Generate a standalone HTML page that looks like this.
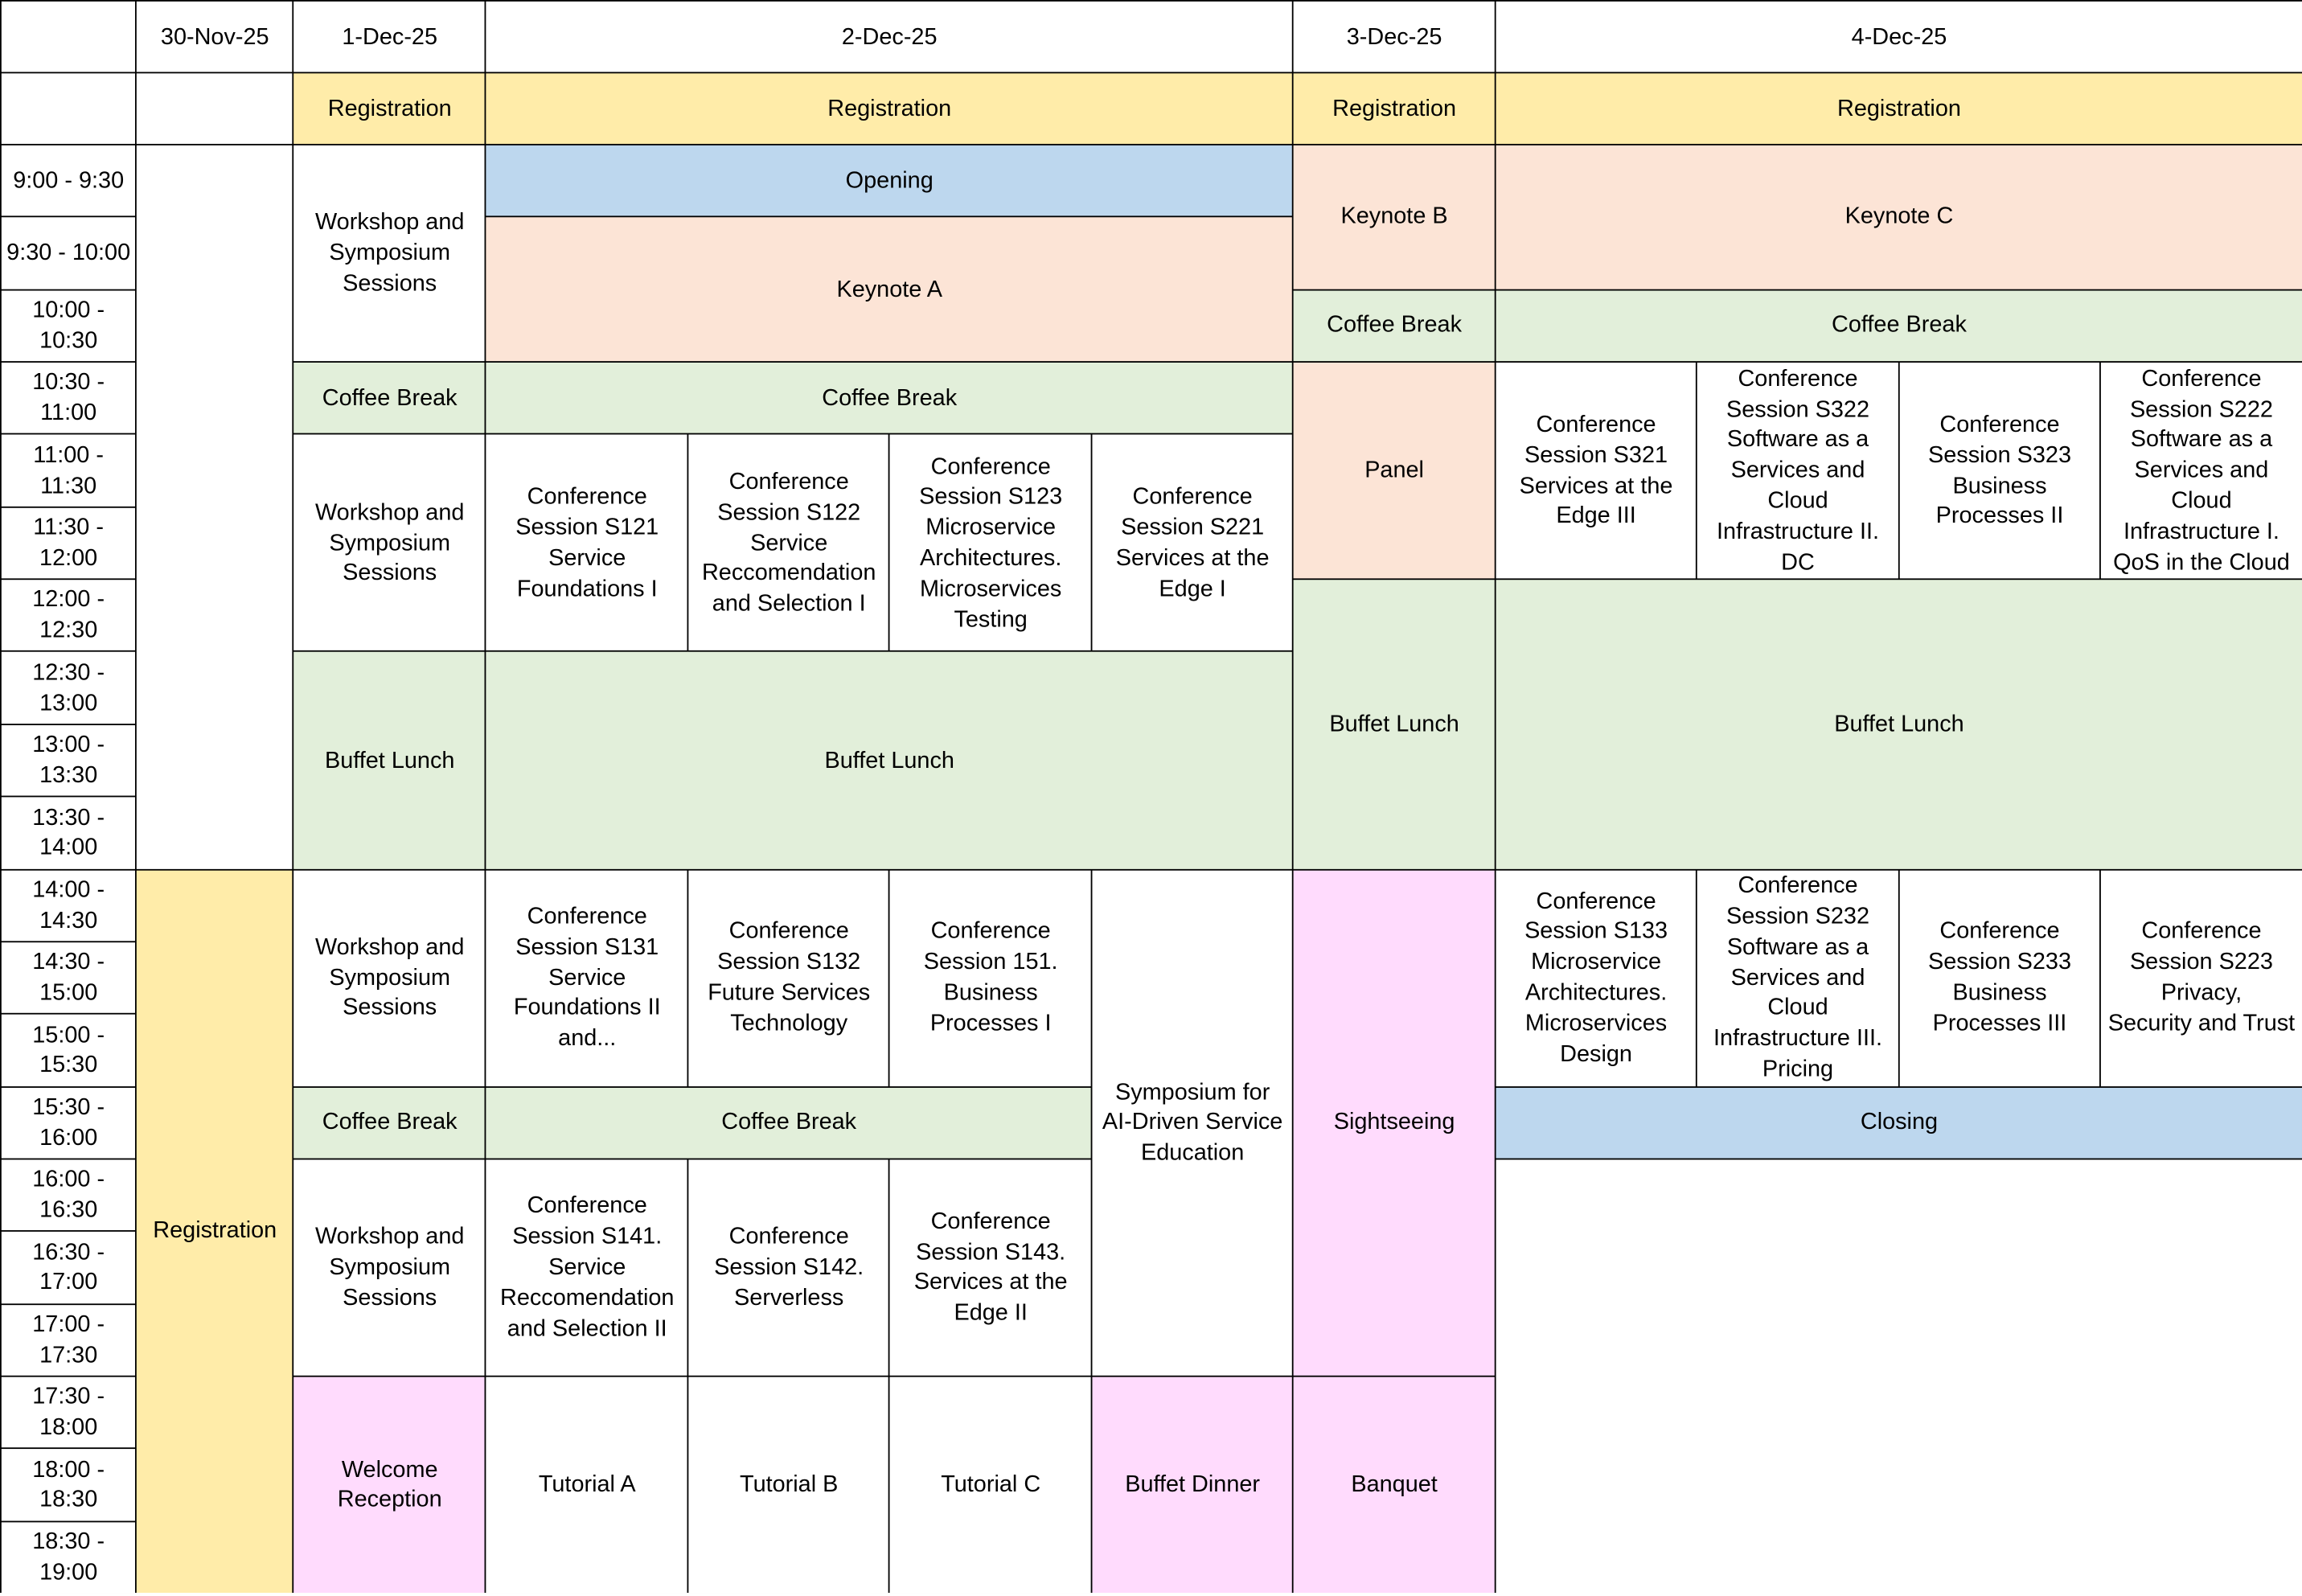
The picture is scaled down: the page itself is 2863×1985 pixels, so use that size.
<!DOCTYPE html>
<html><head><meta charset="utf-8"><style>
html,body{margin:0;padding:0;background:#fff;}
body{width:2863px;height:1981px;overflow:hidden;}
#wrap{width:1568px;height:1085px;transform:scale(1.82589,1.82581);transform-origin:0 0;}
#g{width:1567px;height:1084px;display:grid;gap:1px;background:#000;padding:1px 0 0 1px;
grid-template-columns:92fr 107fr 131fr 138fr 137fr 138fr 137fr 138fr 137fr 138fr 137fr 138fr;
grid-template-rows:49fr 49fr repeat(20,49.35fr);
font-family:"Liberation Sans",sans-serif;font-size:15.8px;line-height:20.8px;color:#000;}
#g>div{background:#fff;display:flex;align-items:center;justify-content:center;text-align:center;overflow:hidden;padding:2px 0 0 0;}
.y{background:#FFECA9 !important}.b{background:#BDD7EE !important}.p{background:#FCE4D6 !important}
.gr{background:#E2EFDA !important}.k{background:#FFDBFD !important}
</style></head><body><div id="wrap"><div id="g">
<div style="grid-area:1/1/2/2"></div>
<div style="grid-area:1/2/2/3">30-Nov-25</div>
<div style="grid-area:1/3/2/4">1-Dec-25</div>
<div style="grid-area:1/4/2/8">2-Dec-25</div>
<div style="grid-area:1/8/2/9">3-Dec-25</div>
<div style="grid-area:1/9/2/13">4-Dec-25</div>
<div style="grid-area:2/1/3/2"></div>
<div style="grid-area:2/2/3/3"></div>
<div class="y" style="grid-area:2/3/3/4">Registration</div>
<div class="y" style="grid-area:2/4/3/8">Registration</div>
<div class="y" style="grid-area:2/8/3/9">Registration</div>
<div class="y" style="grid-area:2/9/3/13">Registration</div>

<div style="grid-area:3/1/4/2">9:00 - 9:30</div>
<div style="grid-area:4/1/5/2">9:30 - 10:00</div>
<div style="grid-area:5/1/6/2">10:00 -<br>10:30</div>
<div style="grid-area:6/1/7/2">10:30 -<br>11:00</div>
<div style="grid-area:7/1/8/2">11:00 -<br>11:30</div>
<div style="grid-area:8/1/9/2">11:30 -<br>12:00</div>
<div style="grid-area:9/1/10/2">12:00 -<br>12:30</div>
<div style="grid-area:10/1/11/2">12:30 -<br>13:00</div>
<div style="grid-area:11/1/12/2">13:00 -<br>13:30</div>
<div style="grid-area:12/1/13/2">13:30 -<br>14:00</div>
<div style="grid-area:13/1/14/2">14:00 -<br>14:30</div>
<div style="grid-area:14/1/15/2">14:30 -<br>15:00</div>
<div style="grid-area:15/1/16/2">15:00 -<br>15:30</div>
<div style="grid-area:16/1/17/2">15:30 -<br>16:00</div>
<div style="grid-area:17/1/18/2">16:00 -<br>16:30</div>
<div style="grid-area:18/1/19/2">16:30 -<br>17:00</div>
<div style="grid-area:19/1/20/2">17:00 -<br>17:30</div>
<div style="grid-area:20/1/21/2">17:30 -<br>18:00</div>
<div style="grid-area:21/1/22/2">18:00 -<br>18:30</div>
<div style="grid-area:22/1/23/2">18:30 -<br>19:00</div>

<div style="grid-area:3/2/13/3"></div>
<div class="y" style="grid-area:13/2/23/3">Registration</div>

<div style="grid-area:3/3/6/4">Workshop and<br>Symposium<br>Sessions</div>
<div class="gr" style="grid-area:6/3/7/4">Coffee Break</div>
<div style="grid-area:7/3/10/4">Workshop and<br>Symposium<br>Sessions</div>
<div class="gr" style="grid-area:10/3/13/4">Buffet Lunch</div>
<div style="grid-area:13/3/16/4">Workshop and<br>Symposium<br>Sessions</div>
<div class="gr" style="grid-area:16/3/17/4">Coffee Break</div>
<div style="grid-area:17/3/20/4">Workshop and<br>Symposium<br>Sessions</div>
<div class="k" style="grid-area:20/3/23/4">Welcome<br>Reception</div>

<div class="b" style="grid-area:3/4/4/8">Opening</div>
<div class="p" style="grid-area:4/4/6/8">Keynote A</div>
<div class="gr" style="grid-area:6/4/7/8">Coffee Break</div>
<div style="grid-area:7/4/10/5">Conference<br>Session S121<br>Service<br>Foundations I</div>
<div style="grid-area:7/5/10/6">Conference<br>Session S122<br>Service<br>Reccomendation<br>and Selection I</div>
<div style="grid-area:7/6/10/7">Conference<br>Session S123<br>Microservice<br>Architectures.<br>Microservices<br>Testing</div>
<div style="grid-area:7/7/10/8">Conference<br>Session S221<br>Services at the<br>Edge I</div>
<div class="gr" style="grid-area:10/4/13/8">Buffet Lunch</div>
<div style="grid-area:13/4/16/5">Conference<br>Session S131<br>Service<br>Foundations II<br>and...</div>
<div style="grid-area:13/5/16/6">Conference<br>Session S132<br>Future Services<br>Technology</div>
<div style="grid-area:13/6/16/7">Conference<br>Session 151.<br>Business<br>Processes I</div>
<div style="grid-area:13/7/20/8">Symposium for<br>AI-Driven Service<br>Education</div>
<div class="gr" style="grid-area:16/4/17/7">Coffee Break</div>
<div style="grid-area:17/4/20/5">Conference<br>Session S141.<br>Service<br>Reccomendation<br>and Selection II</div>
<div style="grid-area:17/5/20/6">Conference<br>Session S142.<br>Serverless</div>
<div style="grid-area:17/6/20/7">Conference<br>Session S143.<br>Services at the<br>Edge II</div>
<div style="grid-area:20/4/23/5">Tutorial A</div>
<div style="grid-area:20/5/23/6">Tutorial B</div>
<div style="grid-area:20/6/23/7">Tutorial C</div>
<div class="k" style="grid-area:20/7/23/8">Buffet Dinner</div>

<div class="p" style="grid-area:3/8/5/9">Keynote B</div>
<div class="gr" style="grid-area:5/8/6/9">Coffee Break</div>
<div class="p" style="grid-area:6/8/9/9">Panel</div>
<div class="gr" style="grid-area:9/8/13/9">Buffet Lunch</div>
<div class="k" style="grid-area:13/8/20/9">Sightseeing</div>
<div class="k" style="grid-area:20/8/23/9">Banquet</div>

<div class="p" style="grid-area:3/9/5/13">Keynote C</div>
<div class="gr" style="grid-area:5/9/6/13">Coffee Break</div>
<div style="grid-area:6/9/9/10">Conference<br>Session S321<br>Services at the<br>Edge III</div>
<div style="grid-area:6/10/9/11">Conference<br>Session S322<br>Software as a<br>Services and<br>Cloud<br>Infrastructure II.<br>DC</div>
<div style="grid-area:6/11/9/12">Conference<br>Session S323<br>Business<br>Processes II</div>
<div style="grid-area:6/12/9/13">Conference<br>Session S222<br>Software as a<br>Services and<br>Cloud<br>Infrastructure I.<br>QoS in the Cloud</div>
<div class="gr" style="grid-area:9/9/13/13">Buffet Lunch</div>
<div style="grid-area:13/9/16/10">Conference<br>Session S133<br>Microservice<br>Architectures.<br>Microservices<br>Design</div>
<div style="grid-area:13/10/16/11">Conference<br>Session S232<br>Software as a<br>Services and<br>Cloud<br>Infrastructure III.<br>Pricing</div>
<div style="grid-area:13/11/16/12">Conference<br>Session S233<br>Business<br>Processes III</div>
<div style="grid-area:13/12/16/13">Conference<br>Session S223<br>Privacy,<br>Security and Trust</div>
<div class="b" style="grid-area:16/9/17/13">Closing</div>
<div style="grid-area:17/9/23/13;margin:0 -2px -2px 0"></div>
</div></div></body></html>
